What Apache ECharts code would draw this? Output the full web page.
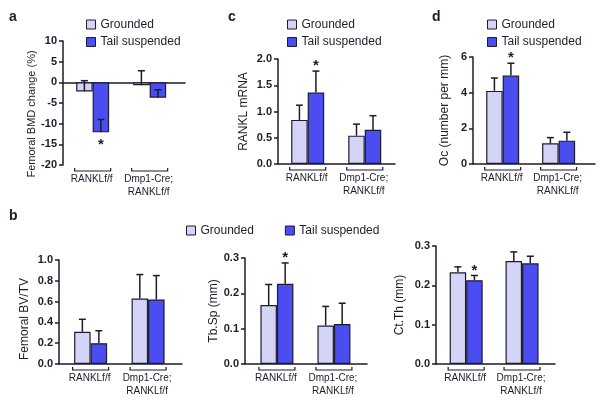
<!DOCTYPE html>
<html>
<head>
<meta charset="utf-8">
<script src="https://cdn.jsdelivr.net/npm/echarts@6/dist/echarts.min.js"></script>
<style>
  html, body { margin: 0; padding: 0; background: #fff; }
  #chart { width: 601px; height: 406px; }
</style>
</head>
<body>
<div id="chart"></div>
<script>
// categories and series
const groups = ['RANKLf/f', 'Dmp1-Cre;\nRANKLf/f'];
const seriesNames = ['Grounded', 'Tail suspended'];

// a: femoral BMD change (%)
const bmdGround = [-2.2, -0.7];
const bmdGroundErr = [2.6, 3.5];
const bmdTail = [-12.1, -3.7];
const bmdTailErr = [3.1, 1.9];
const bmdStar = [1, 0];

// c: RANKL mRNA
const mrnaGround = [0.84, 0.54];
const mrnaGroundErr = [0.28, 0.22];
const mrnaTail = [1.36, 0.65];
const mrnaTailErr = [0.41, 0.27];
const mrnaStar = [1, 0];

// d: Oc (number per mm)
const ocGround = [4.1, 1.16];
const ocGroundErr = [0.72, 0.32];
const ocTail = [4.96, 1.31];
const ocTailErr = [0.69, 0.47];
const ocStar = [1, 0];

// b: BV/TV, Tb.Sp, Ct.Th
const bvGround = [0.31, 0.63];
const bvGroundErr = [0.12, 0.23];
const bvTail = [0.2, 0.62];
const bvTailErr = [0.12, 0.23];
const bvStar = [0, 0];

const spGround = [0.167, 0.109];
const spGroundErr = [0.058, 0.054];
const spTail = [0.227, 0.113];
const spTailErr = [0.059, 0.059];
const spStar = [1, 0];

const thGround = [0.233, 0.262];
const thGroundErr = [0.014, 0.023];
const thTail = [0.213, 0.256];
const thTailErr = [0.012, 0.018];
const thStar = [1, 0];

// tick settings
const bmdTicks = { min: -20, max: 10, interval: 5, dec: 0 };
const mrnaTicks = { min: 0, max: 2, interval: 0.5, dec: 1 };
const ocTicks = { min: 0, max: 6, interval: 2, dec: 0 };
const bvTicks = { min: 0, max: 1, interval: 0.2, dec: 1 };
const spTicks = { min: 0, max: 0.3, interval: 0.1, dec: 1 };
const thTicks = { min: 0, max: 0.3, interval: 0.1, dec: 1 };

const FONT = 'Liberation Sans';
const ink = '#1c1c2c';
const colGround = '#d4d4f6';
const colTail = '#4b4df0';
const barW = 16.5;

// layout of the six panels (pixels)
const panels = [
  { g: bmdGround, ge: bmdGroundErr, t: bmdTail, te: bmdTailErr, star: bmdStar, ticks: bmdTicks,
    title: 'Femoral BMD change (%)', tsize: 11, gap: 25, tpad: [0, 22, 0, 0],
    left: 63, top: 41, w: 122, h: 124, xmin: -0.52, xmax: 1.62 },
  { g: mrnaGround, ge: mrnaGroundErr, t: mrnaTail, te: mrnaTailErr, star: mrnaStar, ticks: mrnaTicks,
    title: 'RANKL mRNA', tsize: 12, gap: 28, tpad: [0, 0, 0, 0],
    left: 278, top: 59, w: 117, h: 105, xmin: -0.52, xmax: 1.53 },
  { g: ocGround, ge: ocGroundErr, t: ocTail, te: ocTailErr, star: ocStar, ticks: ocTicks,
    title: 'Oc (number per mm)', tsize: 12, gap: 22, tpad: [0, 0, 0, 0],
    left: 473, top: 57, w: 122, h: 107, xmin: -0.53, xmax: 1.65 },
  { g: bvGround, ge: bvGroundErr, t: bvTail, te: bvTailErr, star: bvStar, ticks: bvTicks,
    title: 'Femoral BV/TV', tsize: 12, gap: 28, tpad: [0, 14, 0, 0],
    left: 59, top: 260, w: 123, h: 104, xmin: -0.55, xmax: 1.59 },
  { g: spGround, ge: spGroundErr, t: spTail, te: spTailErr, star: spStar, ticks: spTicks,
    title: 'Tb.Sp (mm)', tsize: 12, gap: 23, tpad: [16, 0, 0, 0],
    left: 245, top: 258, w: 122, h: 106, xmin: -0.56, xmax: 1.58 },
  { g: thGround, ge: thGroundErr, t: thTail, te: thTailErr, star: thStar, ticks: thTicks,
    title: 'Ct.Th (mm)', tsize: 12, gap: 30, tpad: [0, 0, 0, 0],
    left: 436, top: 246, w: 119, h: 118, xmin: -0.54, xmax: 1.59 }
];

function errorRender(offset) {
  return function (params, api) {
    const x = api.value(0), v = api.value(1), e = api.value(2);
    const p0 = api.coord([x, v]);
    const p1 = api.coord([x, v + e]);
    const cx = p0[0] + offset;
    return {
      type: 'group',
      children: [
        { type: 'line', shape: { x1: cx, y1: p0[1], x2: cx, y2: p1[1] }, style: { stroke: ink, lineWidth: 1.5 } },
        { type: 'line', shape: { x1: cx - 3.5, y1: p1[1], x2: cx + 3.5, y2: p1[1] }, style: { stroke: ink, lineWidth: 1.5 } }
      ]
    };
  };
}

function starRender(params, api) {
  const x = api.value(0), v = api.value(1), e = api.value(2);
  const p0 = api.coord([x, v]);
  const p1 = api.coord([x, v + e]);
  const cx = p0[0] + barW / 2;
  const cy = v < 0 ? p0[1] + 10 : p1[1] - 8;
  return {
    type: 'text',
    style: { text: '*', x: cx, y: cy + 3, align: 'center', verticalAlign: 'middle',
      font: 'bold 15px ' + FONT, fill: ink }
  };
}

function groupRender(yMin) {
  return function (params, api) {
    const x = api.value(0);
    const p = api.coord([x, yMin]);
    const by = p[1] + 6;
    return {
      type: 'group',
      children: [
        { type: 'polyline', shape: { points: [[p[0] - 18, by - 3], [p[0] - 18, by], [p[0] + 18, by], [p[0] + 18, by - 3]] },
          style: { stroke: ink, lineWidth: 1.2, fill: null } },
        { type: 'text', style: { text: groups[params.dataIndex], x: p[0] - 1, y: by + 2, align: 'center', verticalAlign: 'top',
          font: '10px ' + FONT, lineHeight: 12.5, fill: ink } }
      ]
    };
  };
}

const grid = [], xAxis = [], yAxis = [], series = [];
panels.forEach(function (p, i) {
  grid.push({ left: p.left, top: p.top, width: p.w, height: p.h, containLabel: false });
  xAxis.push({
    type: 'value', gridIndex: i, min: p.xmin, max: p.xmax,
    axisLine: { show: true, onZero: true, lineStyle: { color: ink, width: 1.5 } },
    axisTick: { show: false }, axisLabel: { show: false }, splitLine: { show: false }
  });
  yAxis.push({
    type: 'value', gridIndex: i, min: p.ticks.min, max: p.ticks.max, interval: p.ticks.interval,
    name: p.title, nameLocation: 'middle', nameRotate: 90, nameGap: p.gap,
    nameTextStyle: { fontFamily: FONT, fontSize: p.tsize, color: ink, padding: p.tpad },
    axisLine: { show: true, onZero: false, lineStyle: { color: ink, width: 1.5 } },
    axisTick: { show: true, inside: false, length: 4, lineStyle: { color: ink, width: 1.5 } },
    axisLabel: { margin: 6, fontFamily: FONT, fontSize: 11, fontWeight: 'bold', color: ink,
      formatter: function (v) { return v.toFixed(p.ticks.dec); } },
    splitLine: { show: false }
  });
  const vals = [p.g, p.t];
  const errs = [p.ge, p.te];
  const cols = [colGround, colTail];
  for (let s = 0; s < 2; s++) {
    series.push({
      type: 'bar', name: seriesNames[s], xAxisIndex: i, yAxisIndex: i,
      barWidth: barW, barGap: '0%',
      itemStyle: { color: cols[s], borderColor: ink, borderWidth: 1.2 },
      data: vals[s].map(function (v, k) { return [k, v]; }),
      z: 2
    });
  }
  for (let s = 0; s < 2; s++) {
    series.push({
      type: 'custom', xAxisIndex: i, yAxisIndex: i,
      renderItem: errorRender(s === 0 ? -barW / 2 : barW / 2),
      data: vals[s].map(function (v, k) { return [k, v, errs[s][k]]; }),
      z: 3, silent: true
    });
  }
  series.push({
    type: 'custom', xAxisIndex: i, yAxisIndex: i, renderItem: starRender,
    data: p.t.map(function (v, k) { return [k, v, p.te[k]]; }).filter(function (d, k) { return p.star[k]; }),
    z: 4, silent: true
  });
  series.push({
    type: 'custom', xAxisIndex: i, yAxisIndex: i, renderItem: groupRender(p.ticks.min),
    data: groups.map(function (g, k) { return [k]; }),
    z: 4, silent: true
  });
});

const legendBase = {
  data: seriesNames, icon: 'rect', itemWidth: 9, itemHeight: 9, itemGap: 3.5,
  itemStyle: { borderColor: ink, borderWidth: 1 },
  textStyle: { fontFamily: FONT, fontSize: 12, color: ink, lineHeight: 14 },
  selectedMode: false, padding: 0
};
const legend = [
  Object.assign({}, legendBase, { orient: 'vertical', left: 86, top: 17.5 }),
  Object.assign({}, legendBase, { orient: 'vertical', left: 287, top: 17.5 }),
  Object.assign({}, legendBase, { orient: 'vertical', left: 487, top: 17.5 }),
  Object.assign({}, legendBase, { orient: 'horizontal', left: 186, top: 223.5, itemGap: 31 })
];

const letterStyle = { fontFamily: FONT, fontSize: 14, fontWeight: 'bold', color: ink };
const title = [
  { text: 'a', left: 9, top: 10, padding: 0, textStyle: letterStyle },
  { text: 'c', left: 228, top: 10, padding: 0, textStyle: letterStyle },
  { text: 'd', left: 432, top: 10, padding: 0, textStyle: letterStyle },
  { text: 'b', left: 9, top: 209, padding: 0, textStyle: letterStyle }
];

const chart = echarts.init(document.getElementById('chart'), null, { renderer: 'canvas' });
chart.setOption({
  animation: false,
  backgroundColor: '#fff',
  title: title,
  legend: legend,
  grid: grid,
  xAxis: xAxis,
  yAxis: yAxis,
  series: series
});
</script>
</body>
</html>
